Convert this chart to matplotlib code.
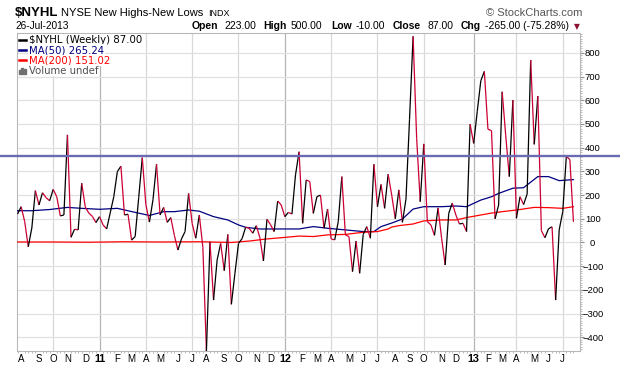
import matplotlib
matplotlib.use("Agg")
import matplotlib.pyplot as plt
from matplotlib.collections import LineCollection
from matplotlib.lines import Line2D
from matplotlib.patches import Rectangle
import numpy as np
import pandas as pd

plt.rcParams["font.family"] = ["Liberation Sans", "DejaVu Sans"]

W, H = 620, 376

# weekly closes of $NYHL, 30-Jul-2010 .. 26-Jul-2013
nyhl = [120, 151, 88, -18, 61, 219, 158, 210, 189, 176,
        224, 193, 112, 116, 454, 22, 56, 53, 250, 150,
        124, 110, 84, 109, 74, 57, 125, 193, 299, 322,
        116, 119, 10, 25, 190, 358, 160, 86, 180, 330,
        116, 148, 85, 105, 30, -32, 15, 46, 207, 80,
        18, 116, -20, -458, 3, -243, -74, -4, -119, 34,
        -261, -130, -4, 16, 64, 60, 39, 71, 20, -78,
        98, 75, 46, 175, 158, 109, 127, 120, 285, 383,
        81, 264, 257, 123, 193, 200, 60, 141, 15, 11,
        88, 278, 32, 25, -123, 6, -130, 34, 67, 18,
        330, 151, 245, 144, 288, 200, 100, 222, 85, 183,
        520, 870, 439, 172, 416, 88, 74, 30, 146, 18,
        -95, 123, 166, 116, 78, 81, 46, 499, 418, 552,
        682, 722, 478, 472, 100, 158, 636, 450, 278, 601,
        102, 193, 160, 204, 770, 414, 618, 50, 20, 58,
        66, -243, 53, 130, 363, 350, 87]

# moving averages, read at a few weeks (week number, value)
ma50_week = [0, 4, 9, 14, 18, 23, 28, 33, 37, 41, 44, 48, 51, 55, 59, 62, 64, 68,
             72, 79, 83, 87, 92, 97, 100, 102, 105, 108, 111, 114, 119, 123, 126,
             130, 133, 135, 139, 142, 146, 149, 152, 156]
ma50_vals = [134, 134, 139, 148, 144, 140, 144, 127, 114, 130, 130, 137, 132, 109,
             95, 74, 64, 57, 57, 57, 67, 60, 53, 46, 46, 67, 82, 99, 141, 151, 151,
             154, 151, 179, 193, 207, 229, 231, 278, 278, 261, 265.24]
ma200_week = [0, 10, 20, 30, 40, 51, 60, 65, 70, 74, 79, 83, 87, 92, 97, 101, 104,
              105, 107, 111, 114, 119, 123, 126, 130, 133, 136, 140, 145, 149, 153, 156]
ma200_vals = [2, 2, 1, 3, 2, 3, 0, 6, 15, 20, 27, 25, 32, 34, 43, 46, 57, 65, 71,
              78, 91, 95, 95, 105, 116, 124, 130, 137, 148, 147, 144, 151.02]

level = 366

# header numbers
hdr_labels = ["Open", "High", "Low", "Close", "Chg"]
hdr_values = ["223.00", "500.00", "-10.00", "87.00", "-265.00 (-75.28%)"]

dates = pd.date_range("2010-07-30", periods=len(nyhl), freq="W-FRI")
week_start = dates - pd.Timedelta(days=4)
x = np.arange(len(nyhl))
y = np.array(nyhl, dtype=float)

fig = plt.figure(figsize=(W / 100, H / 100), dpi=100)
ax = fig.add_axes([16.5 / W, 1 - 351 / H, (579.5 - 16.5) / W, (351 - 33) / H])

# month boundaries -> gridlines and labels
month_idx = [i for i in range(1, len(x)) if week_start[i].month != week_start[i - 1].month]
month_lab = []
for i in month_idx:
    d = week_start[i]
    month_lab.append(d.strftime("%y") if d.month == 1 else d.strftime("%b")[0])

for i in month_idx:
    m = week_start[i].month
    if m == 1:
        ax.axvline(i, color="#b4b4b4", lw=0.9, zorder=1)
    elif m in (4, 7, 10):
        ax.axvline(i, color="#d8d8d8", lw=0.9, zorder=1)

# price line, black going up and crimson going down
pts = np.column_stack([x, y])
segs = np.stack([pts[:-1], pts[1:]], axis=1)
cols = np.where(np.diff(y) >= 0, "#000000", "#cc0033")
ax.add_collection(LineCollection(segs, colors=cols, linewidths=0.9, zorder=4))

ax.plot(ma50_week, ma50_vals, color="#000080", lw=0.9, zorder=3)
ax.plot(ma200_week, ma200_vals, color="#ff0000", lw=0.9, zorder=3)

span = 579.5 - 16.5
ax.axhline(level, xmin=-16.5 / span, xmax=(620 - 16.5) / span, clip_on=False,
           color="#6b6bb5", lw=1.7, zorder=5)

ax.set_xlim(-0.3, 157.7)
ax.set_ylim(-458, 884)

ax.yaxis.tick_right()
ax.set_yticks(range(-400, 801, 100))
ax.set_yticks(range(-450, 881, 10), minor=True)
ax.grid(axis="y", which="major", color="#e0e0e0", lw=0.9, zorder=0)
ax.tick_params(axis="y", which="major", length=3, width=0.8, color="#909090",
               pad=6.5, labelsize=6.8)
ax.tick_params(axis="y", which="minor", length=1.5, width=0.6, color="#b0b0b0")
for t in ax.get_yticklabels():
    t.set_ha("center")

ax.set_xticks(month_idx)
ax.set_xticklabels(month_lab)
ax.set_xticks(x, minor=True)
ax.tick_params(axis="x", which="major", length=0, pad=2.5, labelsize=7)
ax.tick_params(axis="x", which="minor", length=1.5, width=0.6, color="#b0b0b0")
for t, i in zip(ax.get_xticklabels(), month_idx):
    if week_start[i].month == 1:
        t.set_fontweight("bold")
        t.set_fontsize(7.8)

for s in ax.spines.values():
    s.set_color("#b8b8b8")
    s.set_linewidth(0.8)


def fx(px):
    return px / W


def fy(py):
    return 1 - py / H


# header
fig.text(fx(15), fy(16), "$NYHL", fontsize=9.5, fontweight="bold", va="baseline")
fig.text(fx(61), fy(16), "NYSE New Highs-New Lows", fontsize=8, va="baseline")
fig.text(fx(208), fy(16), "INDX", fontsize=6.5, va="baseline")
fig.text(fx(582), fy(16), "\u00a9 StockCharts.com", fontsize=8, color="#555555",
         ha="right", va="baseline")
fig.text(fx(15), fy(29), "26-Jul-2013", fontsize=7.3, va="baseline")

lab_x = [192, 263, 331, 393, 461]
val_x = [224, 291, 356, 427, 485]
for lab, lx, val, vx in zip(hdr_labels, lab_x, hdr_values, val_x):
    fig.text(fx(lx), fy(29), lab, fontsize=7.5, fontweight="bold", va="baseline")
    fig.text(fx(vx), fy(29), val, fontsize=7.5, va="baseline")
fig.text(fx(577), fy(29), "\u25bc", fontsize=5.5, color="#8b1030", ha="center",
         va="baseline", family="DejaVu Sans")

# legend
leg = [("$NYHL (Weekly) 87.00", "#000000"), ("MA(50) 265.24", "#000080"),
       ("MA(200) 151.02", "#ff0000"), ("Volume undef", "#505050")]
for k, (txt, c) in enumerate(leg):
    yy = 40 + 10.2 * k
    fig.text(fx(29), fy(yy), txt, fontsize=7.3, color=c, va="center",
             family="DejaVu Sans",
             bbox=dict(facecolor="white", edgecolor="none", pad=0.6))
    if k < 3:
        fig.add_artist(Line2D([fx(19), fx(26)], [fy(yy), fy(yy)], color=c, lw=1.8,
                              transform=fig.transFigure))
    else:
        for j, hgt in enumerate([4, 6, 5]):
            fig.add_artist(Rectangle((fx(19 + 2.4 * j), fy(yy + 3)), 1.8 / W, hgt / H,
                                     transform=fig.transFigure, color="#707070"))

fig.savefig("out.png", dpi=100, facecolor="white")
